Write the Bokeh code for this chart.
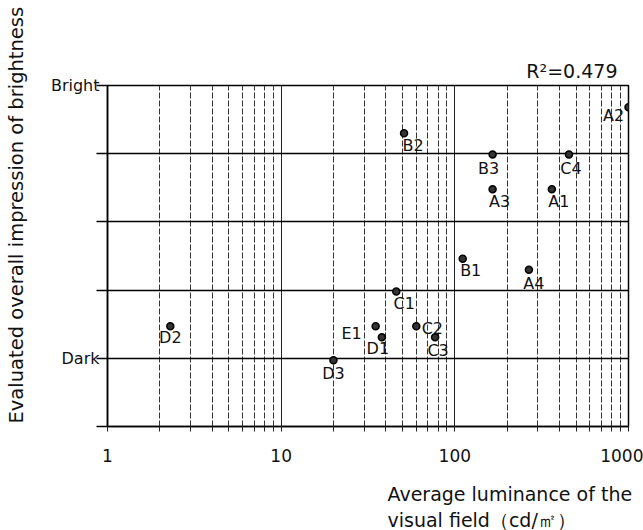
from bokeh.plotting import figure
from bokeh.models import FixedTicker, ColumnDataSource, Range1d, Title
from bokeh.core.properties import value
from bokeh.embed import file_html
from bokeh.resources import INLINE

# ---- data ----
names = ["A1", "A2", "A3", "A4", "B1", "B2", "B3", "C1", "C2", "C3", "C4", "D1", "D2", "D3", "E1"]
luminance = [362, 1000, 165, 267, 111, 51, 165, 46, 60, 77, 454, 38, 2.3, 20, 35]
brightness = [3.48, 4.68, 3.48, 2.30, 2.46, 4.30, 3.99, 1.98, 1.47, 1.31, 3.99, 1.31, 1.47, 0.97, 1.47]

x_ticks = [1, 10, 100, 1000]
x_tick_labels = ["1", "10", "100", "1000"]
x_minor_ticks = [m * d for d in (1, 10, 100) for m in range(2, 10)]
y_levels = [0, 1, 2, 3, 4, 5]
y_level_labels = {1: "Dark", 5: "Bright"}
r_squared_text = "R\u00b2=0.479"
x_title_lines = ["Average luminance of the", "visual field\uff08cd/\u33a1\uff09"]
y_title = "Evaluated  overall impression of brightness"

# ---- label placement (screen px) ----
label_dx = [7, -15, 7, 5, 8, 9, -4, 8, 16, 3, 2, -4, 0, 0, -24]
label_dy = [12, 8, 12, 14, 12, 12, 14, 12, 2, 13, 14, 11, 11, 13, 7]

FONT = "DejaVu Sans"
W, H = 643, 530

p = figure(width=W, height=H, x_axis_type="log",
           x_range=Range1d(1, 1000), y_range=Range1d(0, 5),
           output_backend="svg", toolbar_location=None,
           min_border_left=107, min_border_right=15,
           min_border_top=85, min_border_bottom=104)
p.background_fill_color = "white"
p.border_fill_color = "white"
p.outline_line_color = "black"
p.outline_line_width = 1.5

# R^2 as the (right aligned) title
p.title.text = r_squared_text
p.title.align = "right"
p.title.offset = 11
p.title.standoff = 7
p.title.text_font = FONT
p.title.text_font_size = "19px"
p.title.text_font_style = "normal"
p.title.text_color = "#111"

# x axis
xt = FixedTicker(ticks=x_ticks, minor_ticks=x_minor_ticks)
p.xaxis.ticker = xt
p.xaxis.major_label_overrides = dict(zip(x_ticks, x_tick_labels))
p.xaxis.major_label_text_font = FONT
p.xaxis.major_label_text_font_size = "17px"
p.xaxis.major_label_text_color = "#111"
p.xaxis.major_label_standoff = 17
p.xaxis.major_tick_in = 0
p.xaxis.major_tick_out = 5
p.xaxis.minor_tick_in = 0
p.xaxis.minor_tick_out = 5
p.xaxis.axis_line_color = "black"
p.xaxis.axis_line_width = 1.5
p.xaxis.major_tick_line_color = "#222"
p.xaxis.minor_tick_line_color = "#222"
# blank spacer label (keeps room between the tick labels and the title lines)
p.xaxis.axis_label = "\u00a0"
p.xaxis.axis_label_text_font_size = "1px"
p.xaxis.axis_label_standoff = 11

# y axis
yt = FixedTicker(ticks=y_levels, minor_ticks=[])
p.yaxis.ticker = yt
p.yaxis.major_label_overrides = {v: y_level_labels.get(v, "") for v in y_levels}
p.yaxis.major_tick_in = 0
p.yaxis.major_tick_out = 11
p.yaxis.major_tick_line_color = "black"
p.yaxis.major_tick_line_width = 1.5
p.yaxis.major_label_standoff = -3
p.yaxis.major_label_text_font = FONT
p.yaxis.major_label_text_font_size = "16px"
p.yaxis.major_label_text_color = "#111"
p.yaxis.axis_line_color = "black"
p.yaxis.axis_line_width = 1.5
p.yaxis.axis_label = "\u00a0"
p.yaxis.axis_label_text_font_size = "1px"
p.yaxis.axis_label_standoff = 14

# grids
p.xgrid.ticker = xt
p.xgrid.grid_line_color = "#222"
p.xgrid.grid_line_width = 1
p.xgrid.minor_grid_line_color = "#333"
p.xgrid.minor_grid_line_dash = "6 2"
p.xgrid.minor_grid_line_width = 1
p.ygrid.ticker = yt
p.ygrid.grid_line_color = "black"
p.ygrid.grid_line_width = 1.5

# axis titles (side-panel titles)
for i, line in enumerate(x_title_lines):
    p.add_layout(Title(text=line, align="left", offset=280,
                       standoff=(3 if i == 0 else 0),
                       text_font=FONT, text_font_size="19px",
                       text_font_style="normal", text_color="#111"), "below")
p.add_layout(Title(text=y_title, align="left", offset=3, standoff=4,
                   text_font=FONT, text_font_size="19.5px",
                   text_font_style="normal", text_color="#111"), "left")

# data
src = ColumnDataSource(dict(name=names, lum=luminance, bright=brightness,
                            dx=label_dx, dy=label_dy))
p.scatter(x="lum", y="bright", source=src, size=7, fill_color="#333",
          line_color="black", line_width=1.5)
p.text(x="lum", y="bright", text="name", x_offset="dx", y_offset="dy", source=src,
       text_font=value(FONT), text_font_size="16px", text_align="center",
       text_baseline="middle", text_color="#111")

open("out.html", "w").write(file_html(p, INLINE))
